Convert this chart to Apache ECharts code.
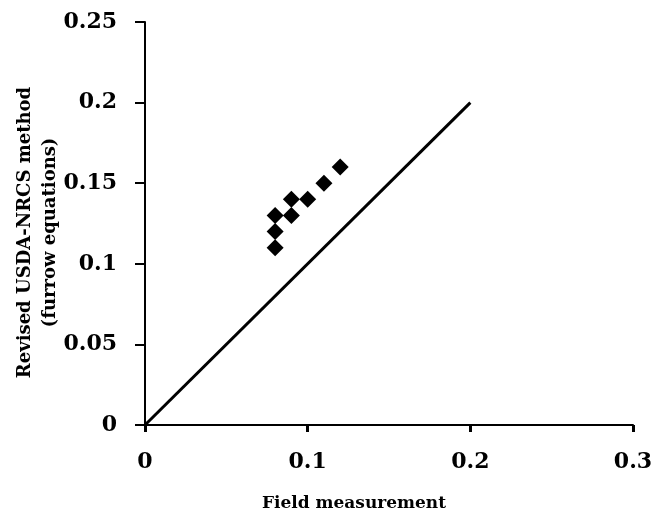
<!DOCTYPE html>
<html>
<head>
<meta charset="utf-8">
<script src="https://cdn.jsdelivr.net/npm/echarts@6/dist/echarts.min.js"></script>
<style>
html,body{margin:0;padding:0;background:#fff;}
#main{width:656px;height:518px;}
</style>
</head>
<body>
<div id="main"></div>
<script>
// field vs revised method values
var fieldValues = [0.08, 0.08, 0.08, 0.09, 0.09, 0.1, 0.11, 0.12];
var revisedValues = [0.11, 0.12, 0.13, 0.13, 0.14, 0.14, 0.15, 0.16];
// 1:1 reference line
var lineX = [0, 0.2];
var lineY = [0, 0.2];
var xTicks = [0, 0.1, 0.2, 0.3];
var yTicks = [0, 0.05, 0.1, 0.15, 0.2, 0.25];

var font = '"DejaVu Serif", serif';

var points = fieldValues.map(function (x, i) { return [x, revisedValues[i]]; });
var linePts = lineX.map(function (x, i) { return [x, lineY[i]]; });

var chart = echarts.init(document.getElementById('main'));
var option = {
    animation: false,
    grid: {left: 145, right: 23, top: 22, bottom: 93, outerBoundsMode: 'none', containLabel: false},
    xAxis: {
        type: 'value',
        min: xTicks[0], max: xTicks[xTicks.length - 1], interval: 0.1,
        splitLine: {show: false},
        axisLine: {lineStyle: {color: '#000', width: 2}},
        axisTick: {length: 7, lineStyle: {color: '#000', width: 3}},
        axisLabel: {color: '#000', fontFamily: font, fontWeight: 'bold', fontSize: 22, margin: 26},
        name: 'Field measurement',
        nameLocation: 'middle',
        nameGap: 70,
        nameMoveOverlap: false,
        nameTextStyle: {color: '#000', fontFamily: font, fontWeight: 'bold', fontSize: 17, padding: [0, 70, 0, 0]}
    },
    yAxis: {
        type: 'value',
        min: yTicks[0], max: yTicks[yTicks.length - 1], interval: 0.05,
        splitLine: {show: false},
        axisLine: {lineStyle: {color: '#000', width: 2}},
        axisTick: {length: 10, lineStyle: {color: '#000', width: 2}},
        axisLabel: {color: '#000', fontFamily: font, fontWeight: 'bold', fontSize: 22, margin: 28},
        name: 'Revised USDA-NRCS method\n(furrow equations)',
        nameLocation: 'middle',
        nameGap: 82,
        nameMoveOverlap: false,
        nameTextStyle: {color: '#000', fontFamily: font, fontWeight: 'bold', fontSize: 18, lineHeight: 25, padding: [0, 18, 0, 0]}
    },
    series: [
        {
            type: 'line',
            data: linePts,
            symbol: 'none',
            lineStyle: {color: '#000', width: 3}
        },
        {
            type: 'scatter',
            data: points,
            symbol: 'diamond',
            symbolSize: 17,
            itemStyle: {color: '#000', opacity: 1}
        }
    ]
};
chart.setOption(option);
</script>
</body>
</html>
